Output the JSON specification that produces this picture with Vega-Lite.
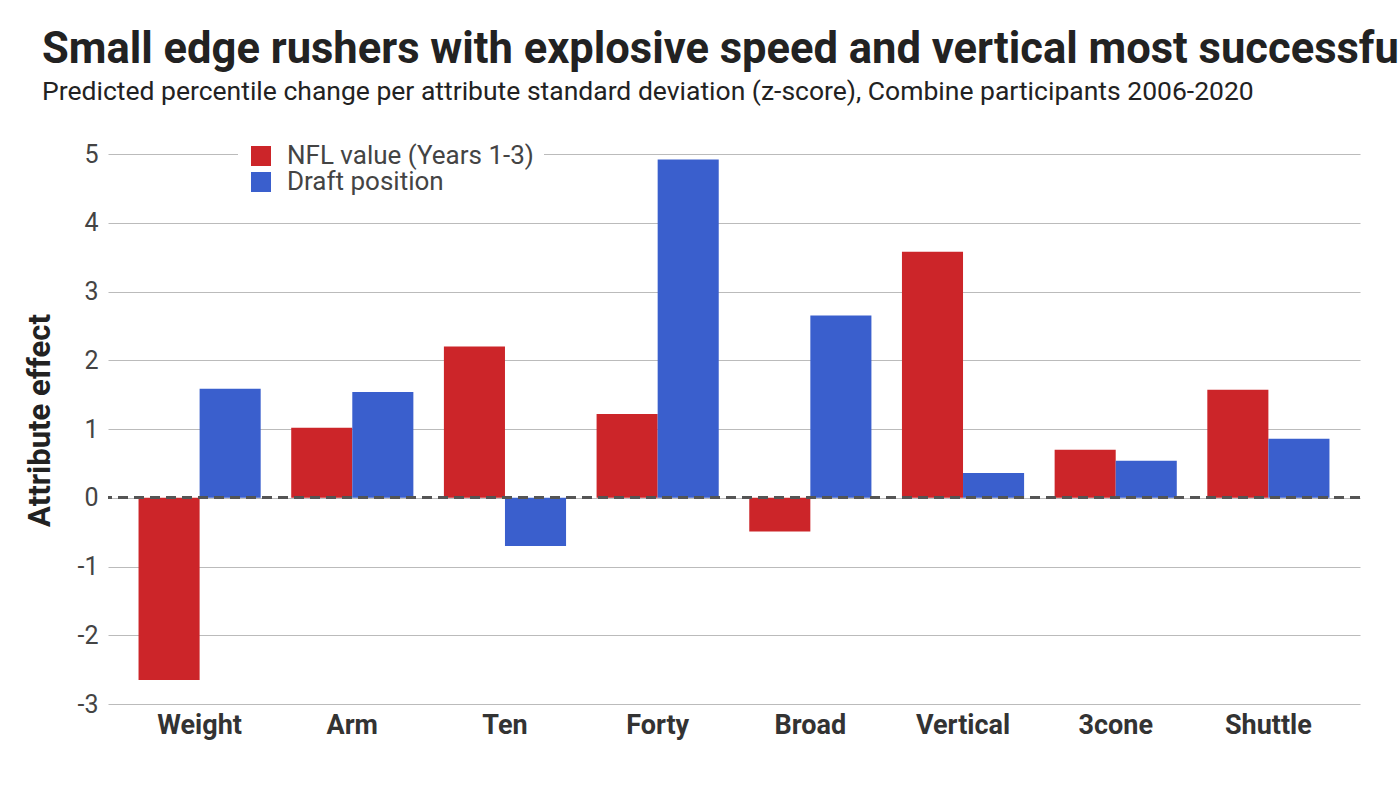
{
  "$schema": "https://vega.github.io/schema/vega-lite/v6.json",
  "autosize": {"type": "none"},
  "width": 1252,
  "height": 550,
  "padding": {"left": 108, "top": 154, "right": 40, "bottom": 84},
  "background": "white",
  "config": {
    "font": "Roboto",
    "view": {"stroke": null}
  },
  "title": {
    "text": "Small edge rushers with explosive speed and vertical most successful",
    "subtitle": "Predicted percentile change per attribute standard deviation (z-score), Combine participants 2006-2020",
    "anchor": "start",
    "frame": "group",
    "dx": -66,
    "font": "Roboto",
    "fontSize": 43.5,
    "fontWeight": "bold",
    "color": "#222222",
    "subtitleFont": "Roboto",
    "subtitleFontSize": 26.5,
    "subtitleColor": "#222222",
    "subtitlePadding": 6,
    "offset": 27
  },
  "data": {
    "values": [
      {"attribute": "Weight", "series": "NFL value (Years 1-3)", "value": -2.65},
      {"attribute": "Weight", "series": "Draft position", "value": 1.585},
      {"attribute": "Arm", "series": "NFL value (Years 1-3)", "value": 1.02},
      {"attribute": "Arm", "series": "Draft position", "value": 1.54},
      {"attribute": "Ten", "series": "NFL value (Years 1-3)", "value": 2.2},
      {"attribute": "Ten", "series": "Draft position", "value": -0.7},
      {"attribute": "Forty", "series": "NFL value (Years 1-3)", "value": 1.22},
      {"attribute": "Forty", "series": "Draft position", "value": 4.92},
      {"attribute": "Broad", "series": "NFL value (Years 1-3)", "value": -0.49},
      {"attribute": "Broad", "series": "Draft position", "value": 2.65},
      {"attribute": "Vertical", "series": "NFL value (Years 1-3)", "value": 3.58},
      {"attribute": "Vertical", "series": "Draft position", "value": 0.36},
      {"attribute": "3cone", "series": "NFL value (Years 1-3)", "value": 0.7},
      {"attribute": "3cone", "series": "Draft position", "value": 0.54},
      {"attribute": "Shuttle", "series": "NFL value (Years 1-3)", "value": 1.57},
      {"attribute": "Shuttle", "series": "Draft position", "value": 0.86}
    ]
  },
  "layer": [
    {
      "mark": {"type": "bar"},
      "encoding": {
        "x": {
          "field": "attribute",
          "type": "nominal",
          "sort": ["Weight", "Arm", "Ten", "Forty", "Broad", "Vertical", "3cone", "Shuttle"],
          "scale": {"paddingInner": 0.2, "paddingOuter": 0.2},
          "axis": {
            "title": null,
            "labelAngle": 0,
            "labelFont": "Roboto",
            "labelFontSize": 27,
            "labelFontWeight": "bold",
            "labelColor": "#333333",
            "labelPadding": 8,
            "domain": false,
            "ticks": false
          }
        },
        "xOffset": {
          "field": "series",
          "type": "nominal",
          "sort": ["NFL value (Years 1-3)", "Draft position"]
        },
        "y": {
          "field": "value",
          "type": "quantitative",
          "scale": {"domain": [-3, 5], "nice": false},
          "axis": {
            "title": "Attribute effect",
            "titleFont": "Roboto",
            "titleFontSize": 31,
            "titleFontWeight": "bold",
            "titleColor": "#222222",
            "titleX": -68,
            "titleY": 266,
            "titleBaseline": "middle",
            "titleAlign": "center",
            "values": [-3, -2, -1, 0, 1, 2, 3, 4, 5],
            "format": "d",
            "labelExpr": "replace(datum.label, '−', '-')",
            "labelFont": "Roboto",
            "labelFontSize": 25,
            "labelColor": "#444444",
            "labelPadding": 10,
            "domain": false,
            "ticks": false,
            "grid": true,
            "gridColor": "#bbbbbb",
            "gridWidth": 1
          }
        },
        "color": {
          "field": "series",
          "type": "nominal",
          "sort": ["NFL value (Years 1-3)", "Draft position"],
          "scale": {"range": ["#cc2529", "#3a5fcd"]},
          "legend": {
            "title": null,
            "orient": "none",
            "legendX": 130,
            "legendY": -21,
            "fillColor": "white",
            "padding": 10,
            "symbolType": "square",
            "symbolSize": 400,
            "symbolStrokeWidth": 0,
            "labelFont": "Roboto",
            "labelFontSize": 26,
            "labelColor": "#444444",
            "labelOffset": 13,
            "labelLimit": 0,
            "rowPadding": -1
          }
        }
      }
    },
    {
      "mark": {"type": "rule", "color": "#555555", "strokeWidth": 2, "strokeDash": [10, 6]},
      "encoding": {"y": {"datum": 0}}
    }
  ]
}
